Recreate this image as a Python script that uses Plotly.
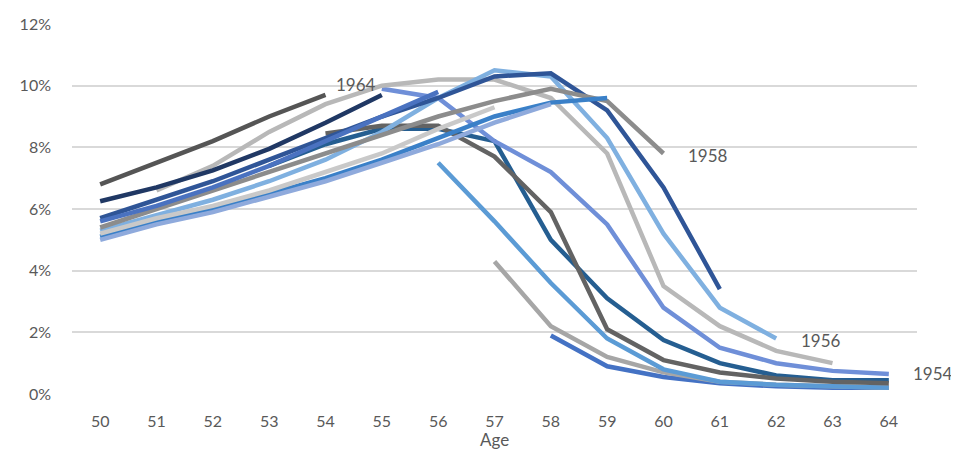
import plotly.graph_objects as go

ages = list(range(50, 65))
x_tick_labels = [str(a) for a in ages]
y_ticks = [0, 0.02, 0.04, 0.06, 0.08, 0.10, 0.12]

# cohort -> (first age observed, values in %)
c1949_start, c1949 = 58, [1.9, 0.9, 0.55, 0.35, 0.25, 0.2, 0.2]
c1950_start, c1950 = 57, [4.3, 2.2, 1.2, 0.7, 0.4, 0.3, 0.25, 0.2]
c1951_start, c1951 = 56, [7.5, 5.6, 3.6, 1.8, 0.8, 0.4, 0.3, 0.25, 0.2]
c1952_start, c1952 = 53, [7.4, 8.1, 8.6, 8.6, 8.2, 5.0, 3.1, 1.75, 1.0, 0.6, 0.45, 0.45]
c1953_start, c1953 = 55, [9.9, 9.6, 8.2, 7.2, 5.5, 2.8, 1.5, 1.0, 0.75, 0.65]
c1954_start, c1954 = 54, [8.45, 8.7, 8.7, 7.7, 5.9, 2.1, 1.1, 0.7, 0.5, 0.4, 0.35]
c1955_start, c1955 = 51, [6.6, 7.4, 8.5, 9.4, 10.0, 10.2, 10.2, 9.6, 7.8, 3.5, 2.2, 1.4, 1.0]
c1956_start, c1956 = 50, [5.3, 5.8, 6.3, 6.9, 7.6, 8.5, 9.6, 10.5, 10.3, 8.3, 5.2, 2.8, 1.8]
c1957_start, c1957 = 50, [5.7, 6.3, 6.9, 7.6, 8.3, 9.0, 9.6, 10.3, 10.4, 9.2, 6.7, 3.4]
c1958_start, c1958 = 50, [5.4, 6.0, 6.6, 7.2, 7.8, 8.4, 9.0, 9.5, 9.9, 9.5, 7.8]
c1959_start, c1959 = 50, [5.1, 5.6, 6.0, 6.5, 7.0, 7.6, 8.3, 9.0, 9.45, 9.6]
c1960_start, c1960 = 50, [5.0, 5.5, 5.9, 6.4, 6.9, 7.5, 8.1, 8.8, 9.4]
c1961_start, c1961 = 50, [5.2, 5.7, 6.1, 6.6, 7.2, 7.8, 8.6, 9.3]
c1962_start, c1962 = 50, [5.6, 6.1, 6.7, 7.4, 8.2, 9.0, 9.8]
c1963_start, c1963 = 50, [6.25, 6.7, 7.25, 7.95, 8.8, 9.7]
c1964_start, c1964 = 50, [6.8, 7.5, 8.2, 9.0, 9.7]

series = [
    ("1949", c1949_start, c1949, "#4472c4"),
    ("1950", c1950_start, c1950, "#a6a6a6"),
    ("1951", c1951_start, c1951, "#5b9bd5"),
    ("1952", c1952_start, c1952, "#255e91"),
    ("1953", c1953_start, c1953, "#6f8fd8"),
    ("1954", c1954_start, c1954, "#636363"),
    ("1955", c1955_start, c1955, "#b8b8b8"),
    ("1956", c1956_start, c1956, "#7fb0e0"),
    ("1957", c1957_start, c1957, "#2f5597"),
    ("1958", c1958_start, c1958, "#8c8c8c"),
    ("1959", c1959_start, c1959, "#3a80c8"),
    ("1960", c1960_start, c1960, "#8faadc"),
    ("1961", c1961_start, c1961, "#c9c9c9"),
    ("1962", c1962_start, c1962, "#4a72c0"),
    ("1963", c1963_start, c1963, "#203864"),
    ("1964", c1964_start, c1964, "#555555"),
]

labels = [("1964", 54.15, 10.05), ("1958", 60.4, 7.75), ("1956", 62.4, 1.75), ("1954", 64.4, 0.65)]

fig = go.Figure()
for name, start, vals, color in series:
    xs = list(range(start, start + len(vals)))
    fig.add_trace(go.Scatter(
        x=xs, y=[v / 100 for v in vals], mode="lines", name=name,
        line=dict(color=color, width=4.5), hoverinfo="name+y"))

for txt, ax, ay in labels:
    fig.add_annotation(x=ax, y=ay / 100, text=txt, showarrow=False,
                       xanchor="left", yanchor="middle",
                       font=dict(family="Lato, Open Sans, sans-serif", size=17, color="#595959"))

fig.add_annotation(xref="paper", yref="paper", x=0.5, y=-0.123, text="Age",
                   showarrow=False, xanchor="center", yanchor="middle",
                   font=dict(family="Lato, Open Sans, sans-serif", size=17, color="#595959"))

# page body adds an 8px offset; size the figure so the plot area lands where the reference has it
fig.update_layout(
    width=951, height=442,
    margin=dict(l=64, r=42, t=16, b=56),
    paper_bgcolor="white", plot_bgcolor="white",
    showlegend=False,
    font=dict(family="Lato, Open Sans, sans-serif", size=16, color="#595959"),
    xaxis=dict(
        range=[49.5, 64.5], tickmode="array", tickvals=ages, ticktext=x_tick_labels,
        showgrid=False, zeroline=False, showline=False, ticks="",
        ticklabelstandoff=16, automargin=False,
    ),
    yaxis=dict(
        range=[0, 0.12], tickmode="array", tickvals=y_ticks, tickformat=".0%",
        showgrid=True, gridcolor="#d9d9d9", gridwidth=1.5, zeroline=False,
        showline=False, ticks="", ticklabelstandoff=20, automargin=False,
    ),
)

fig.write_html("out.html")
